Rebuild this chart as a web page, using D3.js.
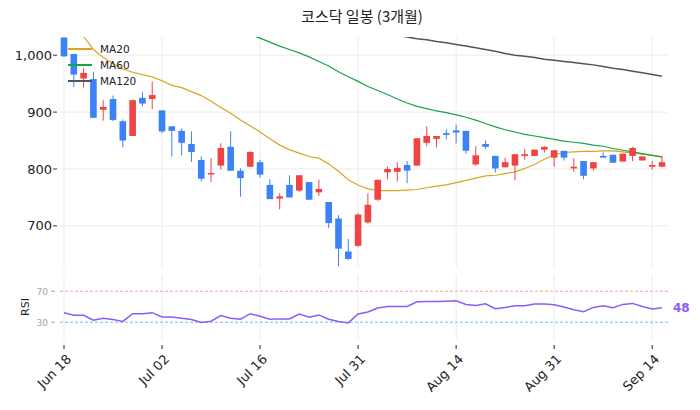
<!DOCTYPE html>
<html><head><meta charset="utf-8">
<script src="https://cdn.jsdelivr.net/npm/d3@7"></script>
<style>body{margin:0;background:#fff;font-family:"DejaVu Sans",sans-serif}</style>
</head><body><svg id="c" width="700" height="410"></svg>
<script>
const opens =[1031,1002,959,958,904,923,884,858,925,923,903,875,867,844,816,792,806,839,797,804,812,772,748,772,762,777,759,742,713,655,665,706,746,794,795,807,806,846,853,863,868,867,808,844,823,803,806,823,823,834,820,832,801,814,801,823,825,813,823,815,804,804];
const closes=[998,966,969,890,909,886,850,921,915,930,866,867,846,830,783,793,837,797,784,830,790,747,752,750,789,746,765,705,660,642,720,737,781,800,802,797,854,858,858,860,864,832,824,839,801,812,826,826,834,839,833,820,804,788,812,820,811,827,837,822,807,812];
const highs =[1032,1002,978,971,921,929,887,922,935,954,903,875,871,866,822,819,845,866,801,831,816,782,757,789,789,777,781,742,719,677,722,757,781,804,812,814,854,875,858,870,878,867,840,850,823,820,826,835,834,840,833,832,819,814,812,829,825,827,839,822,814,823];
const lows  =[997,944,943,890,885,884,838,858,910,905,863,822,824,812,778,777,799,797,751,804,785,747,729,750,760,746,753,696,629,640,663,704,744,782,778,775,806,840,838,852,845,827,806,835,794,803,780,816,823,829,804,815,795,782,797,820,811,813,814,815,799,803];
const ma20=[1060,1045,1033,1010,996,985,976,970,966,962,955,947,943,936,929,919,908,898,886,876,865,853,842,834,828,822,819,809,796,781,772,765,762,762,762,763,764,767,770,772,776,780,784,788,789,792,795,801,808,817,825,829,830,831,831,832,832,830,828,826,824,822];
const ma60=[null,null,null,null,null,null,null,null,null,null,null,null,null,null,null,null,null,null,1042,1036,1030,1023,1016,1010,1004,997,989,981,971,962,954,945,938,931,923,916,910,906,902,899,895,891,886,880,874,869,865,861,858,855,852,849,847,845,842,840,836,833,830,827,824,821];
const ma120=[null,null,null,null,null,null,null,null,null,null,null,null,null,null,null,null,null,null,null,null,null,null,null,null,null,null,null,null,null,null,null,null,null,1037,1035,1032,1029,1027,1024,1022,1019,1016,1013,1010,1007,1003,1000,998,996,993,991,989,987,985,983,980,977,975,972,969,966,963];
const rsi=[42.3,39,39,32.5,35,33.4,31,41,41,42.3,36.8,36.8,35,33.4,29.6,31.3,38.5,35,33.8,41,37.7,33.8,34.3,34.3,40.6,36.4,39.4,33.8,30.9,29.1,40.6,43.2,48.3,50.4,50.4,50.4,56.4,56.8,56.8,57.2,57.7,53,51.7,53.8,47.4,49.1,51.3,51.3,53.4,53.4,52.6,49.6,46.2,43.6,49.1,51.3,48.7,53,54.3,50.4,47,48.7];
const tickIdx=[0,10,20,30,40,50,60];
const tickLabels=["Jun 18","Jul 02","Jul 16","Jul 31","Aug 14","Aug 31","Sep 14"];
const priceTicks=[700,800,900,1000];
const rsiTicks=[30,70];

const svg=d3.select("#c");
const L=60,R=668;
const x=d3.scaleLinear().domain([0,61]).range([64,662]);
const y=d3.scaleLinear().domain([626,1032]).range([268,37]);
const yr=d3.scaleLinear().domain([7,91]).range([340,275]);
const idx=d3.range(opens.length);
const defs=svg.append("defs");
defs.append("clipPath").attr("id","cp").append("rect").attr("x",L).attr("y",37).attr("width",R-L).attr("height",231);
const g=svg.append("g");
g.selectAll(".vg").data(tickIdx).join("line").attr("x1",d=>x(d)).attr("x2",d=>x(d)).attr("y1",37).attr("y2",268).attr("stroke","#ebebeb");
g.selectAll(".vg2").data(tickIdx).join("line").attr("x1",d=>x(d)).attr("x2",d=>x(d)).attr("y1",275).attr("y2",340).attr("stroke","#ebebeb");
g.selectAll(".hg").data(priceTicks).join("line").attr("x1",L).attr("x2",R).attr("y1",d=>y(d)).attr("y2",d=>y(d)).attr("stroke","#ebebeb");
svg.selectAll(".pt").data(priceTicks).join("text").attr("x",52).attr("y",d=>y(d)+4.5).attr("text-anchor","end").attr("font-size",13).attr("fill","#222").text(d3.format(","));
svg.selectAll(".ptk").data(priceTicks).join("line").attr("x1",53).attr("x2",57).attr("y1",d=>y(d)).attr("y2",d=>y(d)).attr("stroke","#333");
const cg=svg.append("g").attr("clip-path","url(#cp)");
const line=d3.line().defined(d=>d[1]!=null).x(d=>x(d[0])).y(d=>y(d[1]));
[[ma20,"#daa520",1.2],[ma60,"#16a34a",1.2],[ma120,"#4b5563",1.5]].forEach(([arr,c,w])=>{
  cg.append("path").attr("d",line(arr.map((v,i)=>[i,v]))).attr("fill","none").attr("stroke",c).attr("stroke-width",w);
});
const col=i=>closes[i]>=opens[i]?"#ef4444":"#3b82f6";
cg.selectAll(".w").data(idx).join("line").attr("x1",i=>x(i)).attr("x2",i=>x(i)).attr("y1",i=>y(highs[i])).attr("y2",i=>y(lows[i])).attr("stroke",col).attr("stroke-width",1);
cg.selectAll(".b").data(idx).join("rect").attr("x",i=>x(i)-3.3).attr("width",6.6).attr("y",i=>y(Math.max(opens[i],closes[i]))).attr("height",i=>Math.max(1.5,Math.abs(y(opens[i])-y(closes[i])))).attr("fill",col);
const leg=[["MA20","#daa520"],["MA60","#16a34a"],["MA120","#4b5563"]];
leg.forEach((d,k)=>{const yy=49+k*16;
  svg.append("line").attr("x1",68).attr("x2",92).attr("y1",yy).attr("y2",yy).attr("stroke",d[1]).attr("stroke-width",2);
  svg.append("text").attr("x",100).attr("y",yy+4).attr("font-size",10.5).attr("fill","#222").text(d[0]);});
svg.selectAll(".rl").data(rsiTicks).join("line").attr("x1",L).attr("x2",R).attr("y1",d=>yr(d)).attr("y2",d=>yr(d)).attr("stroke",d=>d==70?"#f4a0a0":"#7fb8f0").attr("stroke-dasharray","3,2").attr("stroke-width",1);
svg.selectAll(".rt").data(rsiTicks).join("text").attr("x",48).attr("y",d=>yr(d)+3.5).attr("text-anchor","end").attr("font-size",9).attr("fill","#9ca3af").text(d=>d);
svg.selectAll(".rtk").data(rsiTicks).join("line").attr("x1",51).attr("x2",55).attr("y1",d=>yr(d)).attr("y2",d=>yr(d)).attr("stroke","#9ca3af");
svg.append("path").attr("d",d3.line().x((d,i)=>x(i)).y(d=>yr(d))(rsi)).attr("fill","none").attr("stroke","#8b5cf6").attr("stroke-width",1.5);
svg.append("text").attr("x",673).attr("y",yr(rsi[61])+4.5).attr("font-size",12).attr("font-weight","bold").attr("fill","#8b5cf6").text(Math.floor(rsi[61]));
svg.append("text").attr("transform","translate(29,307) rotate(-90)").attr("text-anchor","middle").attr("font-size",11).attr("fill","#222").text("RSI");
svg.selectAll(".xt").data(tickIdx).join("line").attr("x1",d=>x(d)).attr("x2",d=>x(d)).attr("y1",345).attr("y2",349).attr("stroke","#222");
svg.selectAll(".xl").data(tickIdx).join("text").attr("transform",d=>`translate(${x(d)+8},${360}) rotate(-45)`).attr("text-anchor","end").attr("font-size",13).attr("fill","#222").text((d,i)=>tickLabels[i]);
svg.append("text").attr("x",362).attr("y",22).attr("text-anchor","middle").attr("font-size",15).attr("fill","#222").attr("font-family","Noto Sans CJK KR").text("코스닥 일봉 (3개월)");
</script></body></html>
